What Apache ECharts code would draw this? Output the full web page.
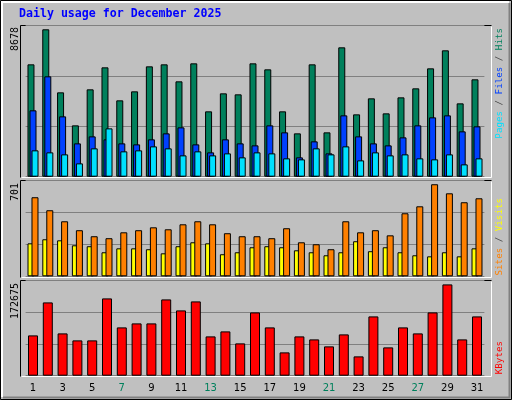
<!DOCTYPE html>
<html><head><meta charset="utf-8">
<script src="https://cdn.jsdelivr.net/npm/echarts@6/dist/echarts.min.js"></script>
<style>html,body{margin:0;padding:0;background:#c0c0c0}#c{width:512px;height:400px}</style>
</head><body><div id="c"></div>
<script>
const days = ['1','2','3','4','5','6','7','8','9','10','11','12','13','14','15','16','17','18','19','20','21','22','23','24','25','26','27','28','29','30','31'];
const weekend = ['6','7','13','14','20','21','27','28'];
const hits = [6616,8678,4967,3023,5144,6439,4496,5026,6498,6616,5615,6675,3848,4908,4849,6675,6321,3848,2552,6616,2611,7617,3671,4614,3730,4672,5203,6380,7441,4319,5733];
const files = [3907,5909,3553,1963,2375,2199,1963,1904,2199,2552,2905,1904,1433,2199,1963,1845,3023,2611,1139,2081,1374,3612,2375,1963,1845,2316,3023,3494,3612,2670,2964];
const pages = [1551,1433,1315,785,1669,2846,1492,1551,1786,1669,1256,1492,1256,1374,1139,1433,1374,1080,1021,1669,1315,1786,962,1433,1256,1315,1080,1021,1315,726,1080];
const visits = [602,503,419,351,305,290,335,351,373,358,396,419,396,328,305,305,290,366,259,244,206,419,335,351,312,480,533,701,632,564,594];
const sites = [251,282,274,236,229,183,213,213,206,175,229,259,251,168,183,221,229,221,198,183,160,183,267,191,221,183,160,152,183,152,213];
const kbytes = [76230,138600,80010,66780,66780,146160,91350,98910,98910,144270,123480,140490,74340,83790,61110,119700,91350,44100,74340,68670,55440,78120,36540,112140,53550,91350,80010,119700,172675,68670,112140];
const maxLabels = ['8678','701','172675'];

const chart = echarts.init(document.getElementById('c'));
const L = 25.6, W = 458.8;
const grids = [
  {left:L, width:W, top:25.3, height:151.4},
  {left:L, width:W, top:180.7, height:95.6},
  {left:L, width:W, top:280.7, height:95}
];
const maxes = [8914, 728, 179670];
const xAxes = grids.map((g,i)=>({type:'category', gridIndex:i, data:days, boundaryGap:true,
  axisLine:{show:false}, axisTick:{show:false}, splitLine:{show:false},
  axisLabel:{show:i===2, margin:8, fontFamily:'DejaVu Sans', fontSize:10,
    color:(v)=>weekend.includes(v)?'#00805c':'#000'}}));
const yAxes = grids.map((g,i)=>({type:'value', gridIndex:i, min:0, max:maxes[i], interval:maxes[i]/3,
  axisLabel:{show:false}, axisLine:{show:false}, axisTick:{show:false},
  splitLine:{lineStyle:{color:'#808080', width:1}}}));
const bs = {borderColor:'#000', borderWidth:1};
const series = [
  {type:'bar', xAxisIndex:0, yAxisIndex:0, data:hits, barWidth:7, barGap:'-71%', itemStyle:{color:'#00805c',...bs}},
  {type:'bar', xAxisIndex:0, yAxisIndex:0, data:files, barWidth:7, barGap:'-71%', itemStyle:{color:'#0040ff',...bs}},
  {type:'bar', xAxisIndex:0, yAxisIndex:0, data:pages, barWidth:7, barGap:'-71%', itemStyle:{color:'#00e0ff',...bs}},
  {type:'bar', xAxisIndex:1, yAxisIndex:1, data:sites, barWidth:7, barGap:'-43%', itemStyle:{color:'#ffff00',...bs}},
  {type:'bar', xAxisIndex:1, yAxisIndex:1, data:visits, barWidth:7, barGap:'-43%', itemStyle:{color:'#ff8000',...bs}},
  {type:'bar', xAxisIndex:2, yAxisIndex:2, data:kbytes, barWidth:10, itemStyle:{color:'#ff0000',...bs}}
];
series.forEach(s=>{s.animation=false; s.silent=true;});

const frames = [[20,25,471,152],[20,180,471,97],[20,280,471,96]];
const graphics = [
  {type:'rect', shape:{x:0.5,y:0.5,width:511,height:399}, style:{fill:'#c0c0c0', stroke:'#000', lineWidth:1}, z:-10},
  {type:'polyline', shape:{points:[[2,397],[2,2],[509,2]]}, style:{fill:null, stroke:'#fff', lineWidth:2}, z:-9},
  {type:'polyline', shape:{points:[[3,397.5],[509.5,397.5],[509.5,3]]}, style:{fill:null, stroke:'#808080', lineWidth:2}, z:-9},
  {type:'text', left:19, top:8, style:{text:'Daily usage for December 2025', fontFamily:'DejaVu Sans Mono', fontWeight:'bold', fontSize:11.6, fill:'#0000ff'}}
];
frames.forEach(f=>{
  graphics.push({type:'rect', shape:{x:f[0]+0.5,y:f[1]+0.5,width:f[2],height:f[3]}, style:{fill:'#c0c0c0', stroke:null}, z:-8});
  graphics.push({type:'polyline', shape:{points:[[f[0]+0.5,f[1]+f[3]+0.5],[f[0]+0.5,f[1]+0.5],[f[0]+f[2]+0.5,f[1]+0.5]]}, style:{fill:null, stroke:'#000', lineWidth:1}, z:-7});
  graphics.push({type:'polyline', shape:{points:[[f[0]+1.5,f[1]+f[3]+0.5],[f[0]+f[2]+0.5,f[1]+f[3]+0.5],[f[0]+f[2]+0.5,f[1]+1.5]]}, style:{fill:null, stroke:'#fff', lineWidth:1}, z:-7});
});
const lTops = [27, 183, 283];
maxLabels.forEach((t,i)=>graphics.push({type:'text', x:15, y:lTops[i], rotation:Math.PI/2,
  style:{text:t, fontFamily:'DejaVu Sans Mono', fontSize:10, fill:'#000', align:'right', verticalAlign:'middle'}}));
const rich = {
  pg:{fill:'#00e0ff'}, fi:{fill:'#0040ff'}, hi:{fill:'#00805c'}, sl:{fill:'#404040'},
  si:{fill:'#ff8000'}, vi:{fill:'#ffff00'}, kb:{fill:'#ff0000'}
};
const rLabels = [
  [28, '{pg|Pages}{sl| / }{fi|Files}{sl| / }{hi|Hits}'],
  [198, '{si|Sites}{sl| / }{vi|Visits}'],
  [341, '{kb|KBytes}']
];
rLabels.forEach(r=>graphics.push({type:'text', x:500, y:r[0], rotation:Math.PI/2,
  style:{text:r[1], rich:rich, fontFamily:'DejaVu Sans Mono', fontSize:9.2, align:'right', verticalAlign:'middle'}}));

chart.setOption({animation:false, backgroundColor:'transparent', grid:grids, xAxis:xAxes, yAxis:yAxes, series:series, graphic:graphics});
</script></body></html>
